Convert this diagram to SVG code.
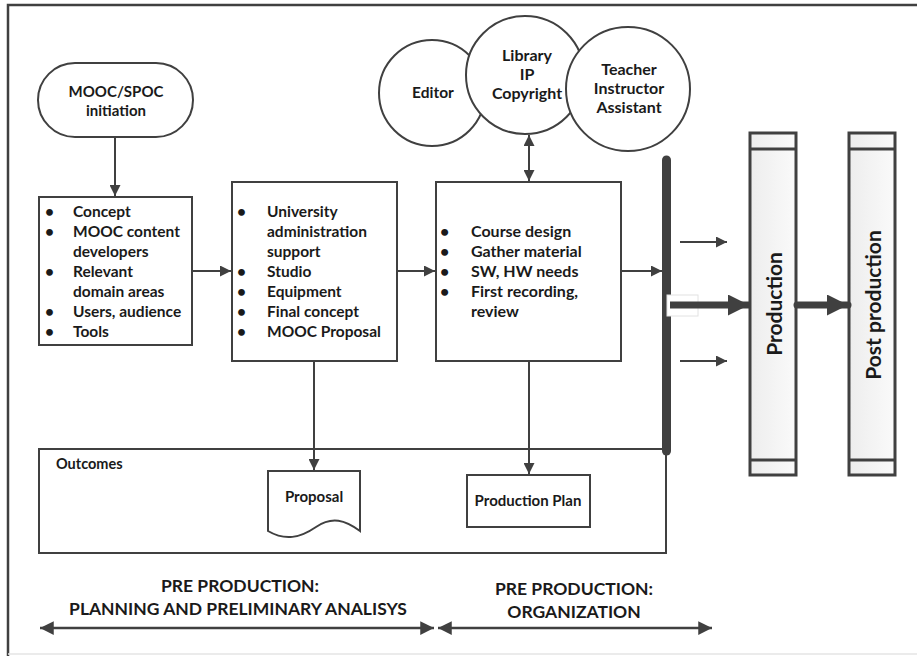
<svg xmlns="http://www.w3.org/2000/svg" width="917" height="656" viewBox="0 0 917 656">
<defs>
<style>
.t{font-family:Lato,"Liberation Sans",sans-serif;font-weight:bold;fill:#1a1a1a;}
.b{stroke:#404040;stroke-width:2;fill:#fff;}
.ln{stroke:#404040;stroke-width:2;fill:none;}
.col{stroke:#404040;stroke-width:3;fill:url(#g);}
</style>
<linearGradient id="g" x1="0" y1="0" x2="1" y2="0">
<stop offset="0" stop-color="#ededed"/><stop offset="1" stop-color="#fafafa"/>
</linearGradient>
<marker id="a" viewBox="0 0 10 10" refX="10" refY="5" markerWidth="6" markerHeight="5.5" markerUnits="strokeWidth" orient="auto-start-reverse">
<path d="M0,0 L10,5 L0,10 Z" fill="#404040"/>
</marker>
<marker id="ab" viewBox="0 0 10 10" refX="10" refY="5" markerWidth="3.4" markerHeight="3" markerUnits="strokeWidth" orient="auto">
<path d="M0,0 L10,5 L0,10 Z" fill="#404040"/>
</marker>
<marker id="ad" viewBox="0 0 10 10" refX="10" refY="5" markerWidth="7" markerHeight="5.5" markerUnits="strokeWidth" orient="auto-start-reverse">
<path d="M0,0 L10,5 L0,10 Z" fill="#404040"/>
</marker>
</defs>
<rect x="0" y="0" width="917" height="656" fill="#fff"/>
<path d="M8,656 V5 H917" fill="none" stroke="#404040" stroke-width="2.5"/>
<line x1="8" y1="654" x2="917" y2="654" stroke="#e4e4e4" stroke-width="1.5"/>

<g id="outcomes">
<rect class="b" x="39" y="449" width="627" height="104"/>
<text class="t" x="56" y="469" font-size="14.5">Outcomes</text>
</g>

<g id="initiation">
<rect class="b" x="38" y="63" width="155" height="74" rx="37"/>
<text class="t" x="116" y="97" font-size="15" text-anchor="middle">MOOC/SPOC</text>
<text class="t" x="116" y="116" font-size="15" text-anchor="middle">initiation</text>
</g>

<g id="editor">
<circle class="b" cx="432" cy="93" r="53"/>
<text class="t" x="433" y="98" font-size="15.5" text-anchor="middle">Editor</text>
</g>
<g id="library">
<circle class="b" cx="525" cy="75" r="59"/>
<text class="t" x="527" y="61" font-size="16" text-anchor="middle">Library</text>
<text class="t" x="527" y="80" font-size="16" text-anchor="middle">IP</text>
<text class="t" x="527" y="99" font-size="16" text-anchor="middle">Copyright</text>
</g>
<g id="teacher">
<circle class="b" cx="628" cy="89" r="62"/>
<text class="t" x="629" y="75" font-size="16" text-anchor="middle">Teacher</text>
<text class="t" x="629" y="94" font-size="16" text-anchor="middle">Instructor</text>
<text class="t" x="629" y="113" font-size="16" text-anchor="middle">Assistant</text>
</g>

<g id="box1">
<rect class="b" x="39" y="197" width="153" height="148"/>
<g class="t" font-size="15.5">
<text x="45" y="217">•</text><text x="73" y="217">Concept</text>
<text x="45" y="237">•</text><text x="73" y="237">MOOC content</text>
<text x="73" y="257">developers</text>
<text x="45" y="277">•</text><text x="73" y="277">Relevant</text>
<text x="73" y="297">domain areas</text>
<text x="45" y="317">•</text><text x="73" y="317">Users, audience</text>
<text x="45" y="337">•</text><text x="73" y="337">Tools</text>
</g>
</g>

<g id="box2">
<rect class="b" x="232" y="182" width="165" height="179"/>
<g class="t" font-size="15.5">
<text x="237" y="217">•</text><text x="267" y="217">University</text>
<text x="267" y="237">administration</text>
<text x="267" y="257">support</text>
<text x="237" y="277">•</text><text x="267" y="277">Studio</text>
<text x="237" y="297">•</text><text x="267" y="297">Equipment</text>
<text x="237" y="317">•</text><text x="267" y="317">Final concept</text>
<text x="237" y="337">•</text><text x="267" y="337">MOOC Proposal</text>
</g>
</g>

<g id="box3">
<rect class="b" x="436" y="182" width="185" height="179"/>
<g class="t" font-size="16">
<text x="440" y="237">•</text><text x="471" y="237">Course design</text>
<text x="440" y="257">•</text><text x="471" y="257">Gather material</text>
<text x="440" y="277">•</text><text x="471" y="277">SW, HW needs</text>
<text x="440" y="297">•</text><text x="471" y="297">First recording,</text>
<text x="471" y="317">review</text>
</g>
</g>

<g id="proposal">
<path class="b" d="M268,471 H360 V531 C345,520 332,516 316,527 C300,538 285,541 268,531 Z"/>
<text class="t" x="314" y="502" font-size="15" text-anchor="middle">Proposal</text>
</g>

<g id="plan">
<rect class="b" x="467" y="475" width="123" height="52"/>
<text class="t" x="528" y="506" font-size="15" text-anchor="middle">Production Plan</text>
</g>

<g id="bar">
<line x1="666.5" y1="160" x2="666.5" y2="451" stroke="#404040" stroke-width="9" stroke-linecap="round"/>
<rect x="667" y="295" width="31" height="21" fill="#fff" stroke="#e2e2e2" stroke-width="1"/>
</g>

<g id="production">
<rect class="col" x="750" y="133" width="46" height="342"/>
<line x1="750" y1="149" x2="796" y2="149" stroke="#404040" stroke-width="3"/>
<line x1="750" y1="460" x2="796" y2="460" stroke="#404040" stroke-width="3"/>
<text class="t" font-size="21" text-anchor="middle" transform="translate(782,304) rotate(-90)">Production</text>
</g>

<g id="postproduction">
<rect class="col" x="849" y="133" width="46" height="342"/>
<line x1="849" y1="149" x2="895" y2="149" stroke="#404040" stroke-width="3"/>
<line x1="849" y1="460" x2="895" y2="460" stroke="#404040" stroke-width="3"/>
<text class="t" font-size="21" text-anchor="middle" transform="translate(881,305) rotate(-90)">Post production</text>
</g>

<g id="labels" class="t" font-size="17.5" text-anchor="middle">
<text x="240" y="592">PRE PRODUCTION:</text>
<text x="238" y="615">PLANNING AND PRELIMINARY ANALISYS</text>
<text x="574" y="595">PRE PRODUCTION:</text>
<text x="574" y="618">ORGANIZATION</text>
</g>

<g id="connectors">
<line class="ln" x1="115" y1="137" x2="115" y2="196" marker-end="url(#a)"/>
<line class="ln" x1="192" y1="271" x2="231" y2="271" marker-end="url(#a)"/>
<line class="ln" x1="397" y1="271" x2="435" y2="271" marker-end="url(#a)"/>
<line class="ln" x1="621" y1="271" x2="662" y2="271" marker-end="url(#a)"/>
<line class="ln" x1="529" y1="135" x2="529" y2="181" marker-start="url(#a)" marker-end="url(#a)"/>
<line class="ln" x1="314" y1="361" x2="314" y2="470" marker-end="url(#a)"/>
<line class="ln" x1="529" y1="361" x2="529" y2="474" marker-end="url(#a)"/>
<line class="ln" x1="680" y1="242" x2="727" y2="242" marker-end="url(#a)"/>
<line class="ln" x1="680" y1="361" x2="727" y2="361" marker-end="url(#a)"/>
<line x1="670" y1="305" x2="749" y2="305" stroke="#404040" stroke-width="7" marker-end="url(#ab)"/>
<line x1="797" y1="305" x2="848" y2="305" stroke="#404040" stroke-width="7" stroke-linecap="round" marker-end="url(#ab)"/>
<line x1="40" y1="628" x2="434" y2="628" stroke="#404040" stroke-width="2.5" marker-start="url(#ad)" marker-end="url(#ad)"/>
<line x1="438" y1="628" x2="712" y2="628" stroke="#404040" stroke-width="2.5" marker-start="url(#ad)" marker-end="url(#ad)"/>
</g>
</svg>
